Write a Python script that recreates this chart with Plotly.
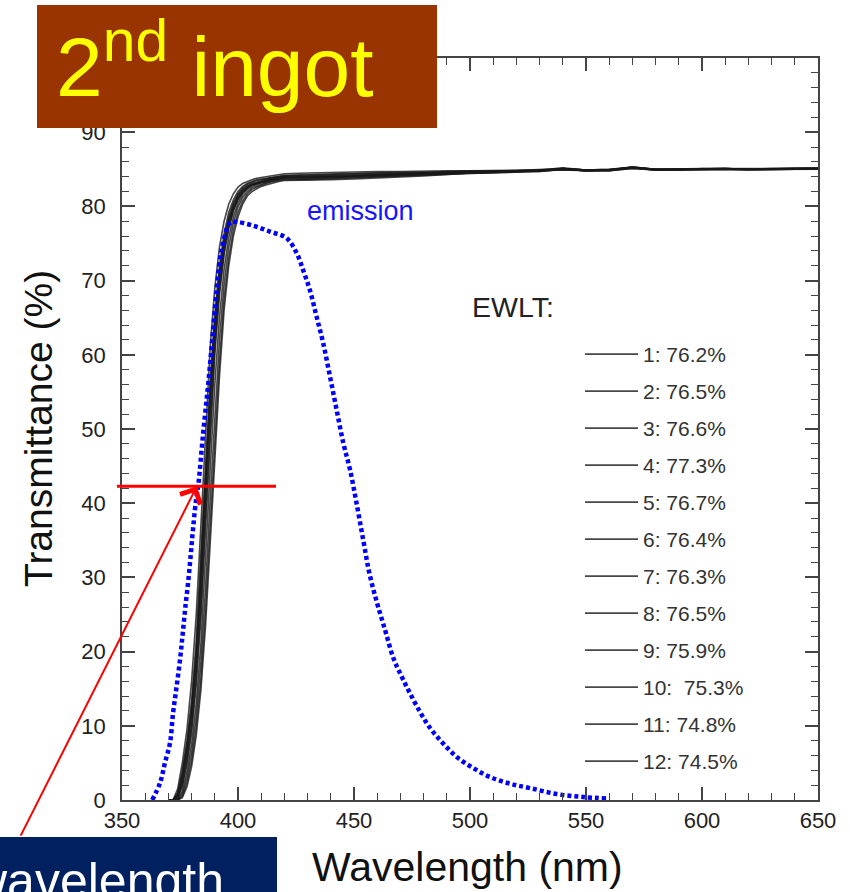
import plotly.graph_objects as go

# ---------------- data ----------------
wl_edge = [370, 372, 374, 376, 378, 380, 382, 384, 386, 388, 390, 392, 394,
           396, 398, 400, 402, 404, 406, 408, 410, 412, 414, 416, 418, 420]
wl_plateau = [430, 440, 450, 460, 470, 480, 490, 500, 510, 520, 530, 540,
              550, 560, 570, 580, 590, 600, 610, 620, 630, 640, 650]

sample_labels = ["1: 76.2%", "2: 76.5%", "3: 76.6%", "4: 77.3%", "5: 76.7%",
                 "6: 76.4%", "7: 76.3%", "8: 76.5%", "9: 75.9%", "10:  75.3%",
                 "11: 74.8%", "12: 74.5%"]

edge_1 = [0, 0, 0.2, 1.8, 4.8, 9, 15.5, 24.5, 36.5, 49, 60, 68, 73.5, 77, 79.4, 80.9, 81.9, 82.5, 82.9, 83.1, 83.3, 83.4, 83.6, 83.7, 83.8, 83.9]
edge_2 = [0, 0, 0.7, 3.2, 7, 12, 19.5, 30, 42.5, 54.5, 64, 70.8, 75.2, 78.2, 80.2, 81.5, 82.3, 82.8, 83.1, 83.3, 83.5, 83.6, 83.8, 83.9, 84.0, 84.1]
edge_3 = [0, 0, 0.8, 3.5, 7.5, 12.5, 20, 31, 43.5, 55, 64.5, 71, 75.6, 78.6, 80.5, 81.7, 82.5, 83.0, 83.3, 83.5, 83.6, 83.7, 83.8, 83.9, 84.0, 84.1]
edge_4 = [0, 0, 1.5, 5, 9.5, 16, 25, 37, 50, 61, 69, 74.5, 78, 80.3, 81.7, 82.6, 83.1, 83.4, 83.6, 83.8, 83.9, 84.0, 84.1, 84.2, 84.3, 84.4]
edge_5 = [0, 0, 1.0, 4, 8, 13.5, 21.5, 32.5, 45, 56.5, 65.5, 72, 76.3, 79.2, 80.9, 82.0, 82.7, 83.1, 83.4, 83.6, 83.7, 83.8, 83.9, 84.0, 84.1, 84.2]
edge_6 = [0, 0, 0.4, 2.4, 5.8, 10.5, 17.5, 27.5, 40, 52, 62, 69.5, 74.3, 77.5, 79.7, 81.1, 82.0, 82.6, 82.9, 83.1, 83.3, 83.5, 83.6, 83.7, 83.8, 83.9]
edge_7 = [0, 0, 0.3, 2.1, 5.3, 9.8, 16.5, 26, 38.5, 50.5, 61, 68.8, 73.8, 77.2, 79.5, 81.0, 81.9, 82.5, 82.9, 83.1, 83.3, 83.4, 83.6, 83.7, 83.8, 83.9]
edge_8 = [0, 0, 0.5, 2.8, 6.5, 11.5, 19, 29.5, 42, 54, 63.5, 70.5, 75, 78, 80, 81.4, 82.2, 82.7, 83.0, 83.2, 83.4, 83.5, 83.7, 83.8, 83.9, 84.0]
edge_9 = [0, 0, 0, 1.2, 3.8, 7.5, 13, 21, 32, 44.5, 56, 65, 71.5, 75.8, 78.6, 80.4, 81.6, 82.3, 82.7, 83.0, 83.2, 83.3, 83.5, 83.6, 83.7, 83.8]
edge_10 = [0, 0, 0, 0.8, 3, 6.3, 11.3, 18.5, 28.5, 40.5, 52, 62, 69.5, 74.5, 77.8, 79.9, 81.2, 82.0, 82.5, 82.8, 83.0, 83.2, 83.4, 83.5, 83.6, 83.7]
edge_11 = [0, 0, 0, 0.5, 2.3, 5.3, 9.8, 16.3, 25.5, 37, 48.5, 59, 67.5, 73, 76.8, 79.2, 80.7, 81.7, 82.3, 82.6, 82.9, 83.1, 83.3, 83.4, 83.5, 83.6]
edge_12 = [0, 0, 0, 0.3, 1.8, 4.5, 8.7, 14.8, 23.5, 34.5, 46, 57, 66, 72, 76, 78.6, 80.3, 81.4, 82.0, 82.4, 82.7, 82.9, 83.1, 83.3, 83.4, 83.5]

plat_1 = [83.9, 84.0, 84.1, 84.2, 84.3, 84.4, 84.5, 84.6, 84.6, 84.7, 84.8, 85.0, 84.8, 84.9, 85.2, 84.9, 85.0, 85.0, 85.1, 85.0, 85.0, 85.0, 85.1]
plat_2 = [84.1, 84.2, 84.3, 84.4, 84.5, 84.5, 84.6, 84.7, 84.7, 84.8, 84.8, 85.0, 84.9, 84.9, 85.3, 84.9, 85.0, 85.1, 85.1, 85.0, 85.1, 85.1, 85.1]
plat_3 = [84.2, 84.3, 84.4, 84.5, 84.5, 84.6, 84.6, 84.7, 84.8, 84.8, 84.8, 85.1, 84.9, 85.0, 85.2, 85.0, 85.0, 85.1, 85.0, 85.0, 85.1, 85.0, 85.1]
plat_4 = [84.5, 84.6, 84.6, 84.7, 84.7, 84.8, 84.8, 84.8, 84.8, 84.9, 84.9, 85.2, 84.9, 85.0, 85.3, 85.0, 85.1, 85.1, 85.1, 85.0, 85.1, 85.1, 85.2]
plat_5 = [84.3, 84.4, 84.5, 84.5, 84.6, 84.6, 84.7, 84.8, 84.7, 84.8, 84.9, 85.1, 84.9, 84.9, 85.3, 85.0, 85.0, 85.1, 85.1, 85.0, 85.1, 85.1, 85.1]
plat_6 = [84.0, 84.0, 84.1, 84.3, 84.3, 84.4, 84.6, 84.6, 84.7, 84.7, 84.8, 85.0, 84.8, 84.9, 85.3, 85.0, 85.0, 85.0, 85.1, 85.0, 85.1, 85.1, 85.0]
plat_7 = [83.9, 84.0, 84.1, 84.2, 84.3, 84.4, 84.5, 84.6, 84.7, 84.7, 84.8, 85.1, 84.9, 84.9, 85.2, 85.0, 84.9, 85.1, 85.1, 85.0, 85.0, 85.1, 85.1]
plat_8 = [84.0, 84.1, 84.2, 84.3, 84.4, 84.5, 84.6, 84.7, 84.7, 84.8, 84.8, 85.1, 84.9, 84.9, 85.2, 85.0, 85.0, 85.1, 85.1, 85.0, 85.0, 85.1, 85.1]
plat_9 = [83.8, 83.9, 84.0, 84.1, 84.2, 84.3, 84.5, 84.6, 84.6, 84.7, 84.8, 85.0, 84.8, 84.9, 85.2, 84.9, 85.0, 85.0, 85.0, 85.0, 85.0, 85.1, 85.0]
plat_10 = [83.7, 83.8, 83.9, 84.0, 84.1, 84.3, 84.4, 84.5, 84.6, 84.7, 84.7, 85.0, 84.8, 84.8, 85.2, 84.9, 84.9, 85.0, 85.0, 84.9, 85.0, 85.0, 85.0]
plat_11 = [83.6, 83.7, 83.8, 83.9, 84.0, 84.2, 84.3, 84.5, 84.5, 84.6, 84.7, 85.0, 84.8, 84.8, 85.1, 84.9, 84.9, 85.0, 85.0, 84.9, 85.0, 85.0, 85.0]
plat_12 = [83.5, 83.6, 83.7, 83.8, 84.0, 84.1, 84.3, 84.4, 84.5, 84.6, 84.7, 84.9, 84.8, 84.8, 85.1, 84.9, 84.9, 85.0, 85.0, 84.9, 85.0, 85.0, 85.0]

edges = [edge_1, edge_2, edge_3, edge_4, edge_5, edge_6, edge_7, edge_8, edge_9, edge_10, edge_11, edge_12]
plats = [plat_1, plat_2, plat_3, plat_4, plat_5, plat_6, plat_7, plat_8, plat_9, plat_10, plat_11, plat_12]

emission_wl = [363, 366.4, 368.5, 370.7, 372, 373.5, 375, 376.2, 377.3, 378.6, 379.7, 380.7,
               381.9, 382.9, 385, 387.2, 389, 390.8, 392.9, 396.6, 399.4, 406.6, 413.8, 421,
               425.3, 428.1, 431, 433.9, 436.7, 439.7, 442.5, 445.4, 448.3, 451.1, 454, 456.6,
               459.8, 463.4, 467, 470.6, 474.1, 478.4, 482.8, 488.5, 494.3, 501.4, 508.6,
               517.2, 525.9, 537.4, 548.8, 559]
emission_val = [0, 2.3, 5, 7.7, 11.7, 15.2, 18.9, 22.5, 26, 29.6, 33.3, 36.8,
                40.4, 42.5, 49.5, 56.2, 62.4, 68.7, 74.1, 77.8, 77.9, 77.4, 76.6, 75.7,
                73.7, 71.4, 68.7, 65.1, 61.6, 57, 52.6, 48.1, 44.5, 40, 35, 30.6,
                26.7, 22.9, 19.1, 16.6, 14.4, 11.9, 9.7, 7.6, 5.8, 4.3, 3.1,
                2.2, 1.6, 0.8, 0.4, 0.2]

y_tickvals = [0, 10, 20, 30, 40, 50, 60, 70, 80, 90]
x_tickvals = [350, 400, 450, 500, 550, 600, 650]

mark_wl = 382.3     # arrow target (nm)
mark_t = 42.3       # marked transmittance level (%)

# ---------------- figure ----------------
FONT = "Liberation Sans, Arial, sans-serif"
W, H = 850, 892
ML, MR, MT, MB = 122, 32, 58, 92
PW, PH = W - ML - MR, H - MT - MB


def px(xp):
    return (xp - ML) / PW


def py(yp):
    return (H - MB - yp) / PH


fig = go.Figure()

wl_all = wl_edge + wl_plateau
for i in range(12):
    fig.add_trace(go.Scatter(
        x=wl_all, y=edges[i] + plats[i], mode="lines",
        name=sample_labels[i], legendgroup=f"g{i}",
        line=dict(color="rgba(25,25,25,0.8)", width=1.6),
        hoverinfo="skip"))

fig.add_trace(go.Scatter(
    x=emission_wl, y=emission_val, mode="lines", showlegend=False,
    line=dict(color="#0000FF", width=4.5, dash="4px,3px", shape="spline"),
    hoverinfo="skip"))

axis_common = dict(
    showline=True, linecolor="#444", linewidth=1.5, mirror="allticks",
    ticks="inside", ticklen=13, tickwidth=1.5, tickcolor="#444",
    showgrid=False, zeroline=False,
    tickfont=dict(family=FONT, size=22, color="#222"),
)

fig.update_xaxes(range=[350, 650], tickvals=x_tickvals,
                 minor=dict(dtick=10, tick0=350, ticks="inside", ticklen=7, tickcolor="#444", tickwidth=1.2),
                 ticklabelstandoff=0, **axis_common)
fig.update_yaxes(range=[0, 100], tickvals=y_tickvals,
                 minor=dict(dtick=2, tick0=0, ticks="inside", ticklen=7, tickcolor="#444", tickwidth=1.2),
                 ticklabelstandoff=10, **axis_common)

shapes = [
    # title box
    dict(type="rect", xref="paper", yref="paper", x0=px(37), x1=px(437), y0=py(128), y1=py(5),
         fillcolor="#993300", line=dict(width=0), layer="above"),
    # bottom-left box
    dict(type="rect", xref="paper", yref="paper", x0=px(-10), x1=px(277), y0=py(905), y1=py(837),
         fillcolor="#002060", line=dict(width=0), layer="above"),
    # red level line
    dict(type="line", xref="paper", yref="y", x0=px(117), x1=px(276), y0=mark_t, y1=mark_t,
         line=dict(color="#FF0000", width=3), layer="above"),
]

annotations = [
    dict(text="2<sup>nd</sup> ingot", xref="paper", yref="paper", x=px(54), y=py(61),
         xanchor="left", yanchor="middle", showarrow=False,
         font=dict(family=FONT, size=84, color="#FFFF00")),
    dict(text="wavelength", xref="paper", yref="paper", x=px(-32), y=py(881),
         xanchor="left", yanchor="middle", showarrow=False,
         font=dict(family=FONT, size=50, color="#FFFFFF")),
    dict(text="emission", x=453, y=79.4, xref="x", yref="y", showarrow=False,
         font=dict(family=FONT, size=27, color="#1515FF")),
    dict(text="EWLT:", x=518.5, y=66.4, xref="x", yref="y", showarrow=False,
         font=dict(family=FONT, size=28.5, color="#222")),
    dict(text="Transmittance (%)", xref="paper", yref="paper", x=px(38), y=0.5,
         textangle=-90, showarrow=False, xanchor="center", yanchor="middle",
         font=dict(family=FONT, size=39, color="#111")),
    dict(text="Wavelength (nm)", xref="paper", yref="paper", x=px(467), y=py(867),
         showarrow=False, xanchor="center", yanchor="middle",
         font=dict(family=FONT, size=41, color="#111")),
    dict(text="", x=mark_wl, y=mark_t, xref="x", yref="y", showarrow=True,
         ax=20 - 197, ay=837 - 486, axref="pixel", ayref="pixel",
         arrowhead=4, arrowsize=2.2, arrowwidth=2, arrowcolor="#FF0000", standoff=0),
]

fig.update_layout(
    width=W, height=H, autosize=False,
    margin=dict(l=ML, r=MR, t=MT, b=MB, pad=0),
    paper_bgcolor="white", plot_bgcolor="white",
    font=dict(family=FONT, color="#222"),
    showlegend=True,
    legend=dict(x=px(580), y=py(334), xanchor="left", yanchor="top",
                bgcolor="rgba(0,0,0,0)", borderwidth=0,
                font=dict(family=FONT, size=21, color="#333"),
                itemwidth=53, tracegroupgap=6.7, traceorder="grouped"),
    shapes=shapes, annotations=annotations,
)

fig.write_html("out.html")
